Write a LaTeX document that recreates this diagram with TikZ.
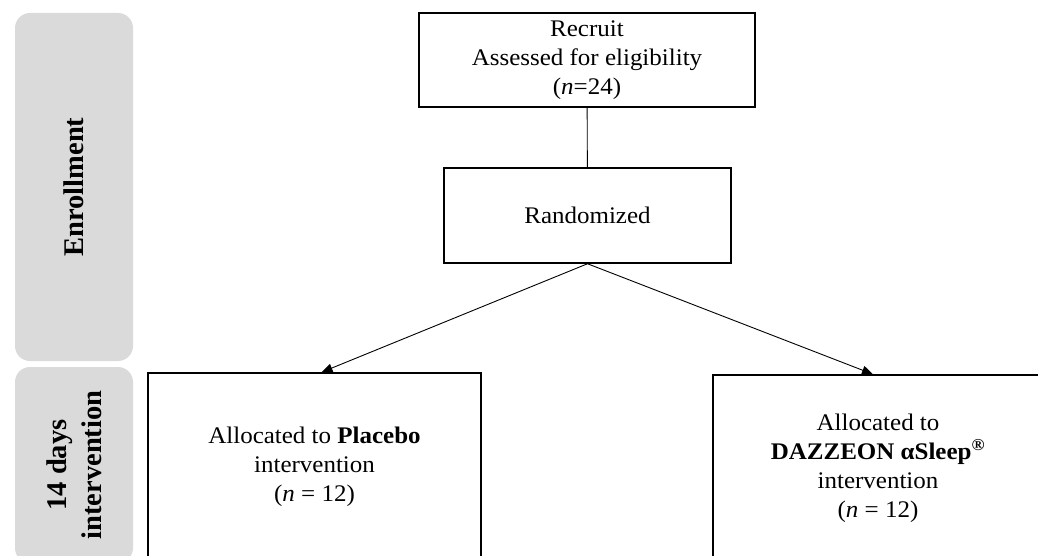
\documentclass[tikz,border=0pt]{standalone}
\usepackage{fontspec}
\setmainfont{Liberation Serif}[FakeStretch=1.05]
\newfontfamily\panelfont{Liberation Serif}
\usetikzlibrary{arrows.meta}
\definecolor{panelgray}{RGB}{218,218,218}
\begin{document}
\begin{tikzpicture}[x=1pt,y=-1pt,
  box/.style={draw=black, line width=1.5pt, rectangle, inner sep=0pt, align=center,
    font=\fontsize{23.8}{29}\selectfont},
  panel/.style={fill=panelgray, rounded corners=15pt, inner sep=0pt, align=center, rotate=90,
    minimum height=118pt, font=\panelfont\fontsize{28.5}{35}\selectfont\bfseries},
  link/.style={line width=0.9pt},
  arr/.style={line width=0.9pt, -{Triangle[length=11pt,width=9pt]}}]
\useasboundingbox (0,0) rectangle (1038,556);
\clip (0,0) rectangle (1038,556);
\node[panel, minimum width=348pt] (penr) at (74,187) {Enrollment};
\node[panel, minimum width=196pt] (pint) at (74,465) {14 days\\intervention};
\node[box, minimum width=336pt, minimum height=94pt] (recruit) at (587,60)
  {Recruit\\Assessed for eligibility\\(\textit{n}=24)};
\node[box, minimum width=287pt, minimum height=95pt] (rand) at (587.5,215.5) {Randomized};
\node[box, minimum width=333pt, minimum height=188pt] (plac) at (314.5,467)
  {Allocated to \textbf{Placebo}\\intervention\\(\textit{n} = 12)};
\node[box, minimum width=330pt, minimum height=186pt] (dazz) at (878,468)
  {Allocated to\\\textbf{DAZZEON αSleep\textsuperscript{®}}\\intervention\\(\textit{n} = 12)};
\draw[link] (recruit) -- (rand);
\draw[arr] (rand.south) -- ([xshift=7pt]plac.north);
\draw[arr] (rand.south) -- ([xshift=-5pt]dazz.north);
\end{tikzpicture}
\end{document}
